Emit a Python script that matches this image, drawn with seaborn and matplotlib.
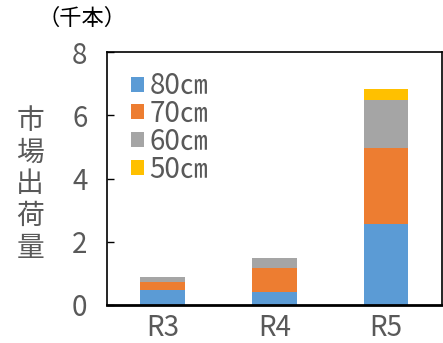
import matplotlib
matplotlib.use("Agg")
import matplotlib.pyplot as plt
from matplotlib.patches import Patch
import numpy as np
import pandas as pd
import seaborn as sns

# Shipments by stem length (thousand stems)
years = ["R3", "R4", "R5"]
sizes = ["80㎝", "70㎝", "60㎝", "50㎝"]
v80 = [0.47, 0.42, 2.57]
v70 = [0.26, 0.76, 2.41]
v60 = [0.15, 0.31, 1.51]
v50 = [0.00, 0.00, 0.35]
colors = ["#5B9BD5", "#ED7D31", "#A5A5A5", "#FFC000"]
yticks = [0, 2, 4, 6, 8]

sns.set_theme(style="white")
plt.rcParams["font.family"] = ["Noto Sans CJK JP", "DejaVu Sans"]
text_color = "#595959"

fig = plt.figure(figsize=(4.43, 3.43), dpi=100)
ax = fig.add_axes([0.2415, 0.111, 0.756, 0.737])

series = [v80, v70, v60, v50]
cum = np.cumsum(np.array(series), axis=0)
# Draw cumulative totals from the top segment down so each layer covers the one above
for i in range(len(series) - 1, -1, -1):
    df = pd.DataFrame({"year": years, "value": cum[i]})
    sns.barplot(data=df, x="year", y="value", color=colors[i], saturation=1,
                width=0.4, ax=ax, linewidth=0)

ax.set_ylim(0, 8)
ax.set_yticks(yticks)
ax.set_xlabel("")
ax.set_ylabel("")
ax.tick_params(axis="y", direction="in", length=5, width=1, color="black",
               labelsize=20, labelcolor=text_color, pad=14, left=True)
ax.tick_params(axis="x", length=0, labelsize=20, labelcolor=text_color, pad=6)
for side in ["left", "right", "top"]:
    ax.spines[side].set_color("black")
    ax.spines[side].set_linewidth(1.2)
ax.spines["bottom"].set_color("black")
ax.spines["bottom"].set_linewidth(2)

handles = [Patch(facecolor=c, edgecolor="none") for c in colors]
leg = ax.legend(handles, sizes, loc="upper left", bbox_to_anchor=(-0.01, 1.035),
                frameon=False, fontsize=20, handlelength=0.45, handleheight=0.45,
                handletextpad=0.2, labelspacing=-0.08, borderaxespad=0.6)
for t in leg.get_texts():
    t.set_color(text_color)

fig.text(0.068, 0.463, "市\n場\n出\n荷\n量", ha="center", va="center",
         fontsize=20, color=text_color, linespacing=1.08)
fig.text(0.185, 0.946, "（千本）", ha="center", va="center",
         fontsize=16, color="black")

fig.savefig("out.png", dpi=100)
